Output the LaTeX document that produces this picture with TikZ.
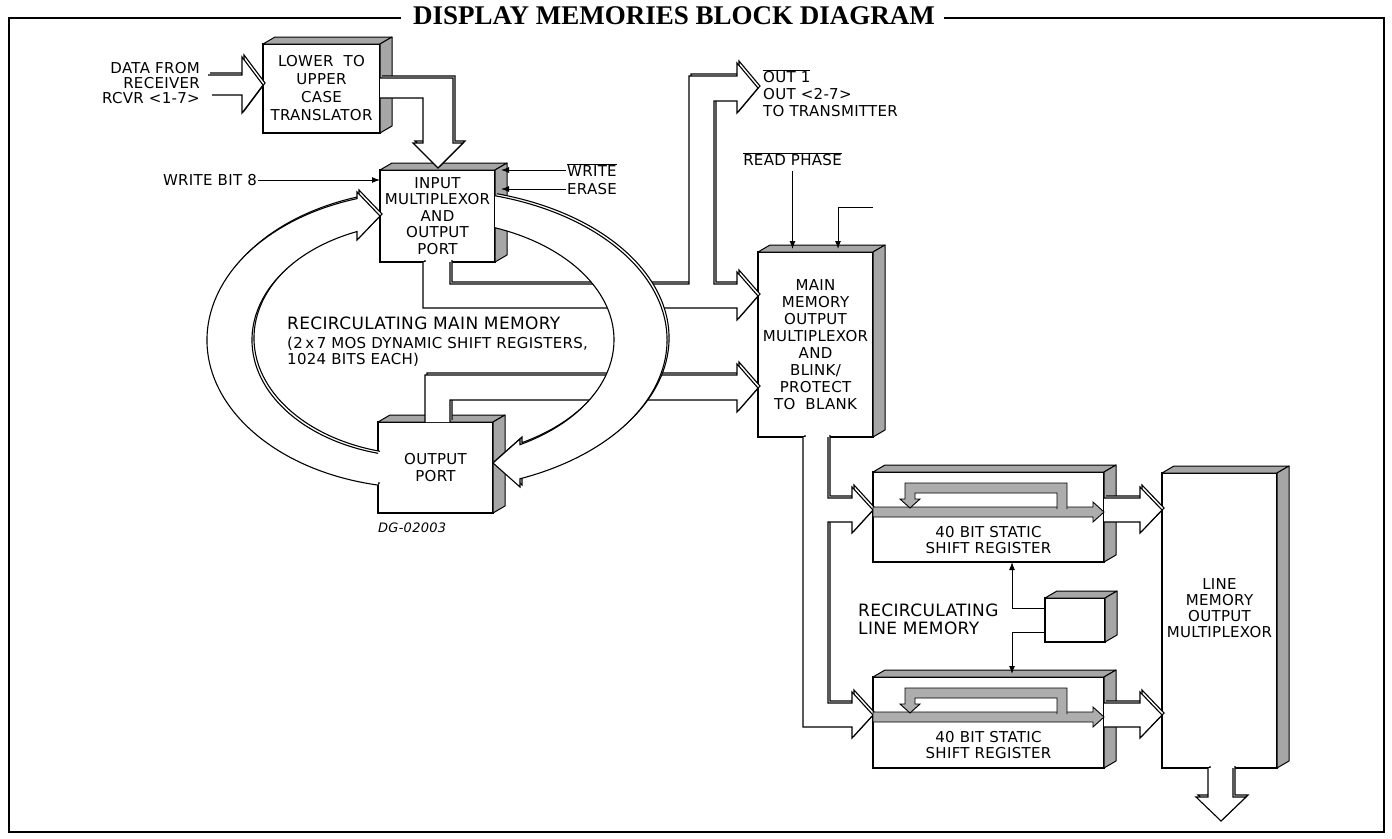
\documentclass[tikz,border=0pt]{standalone}
\usepackage{fontspec}
\setmainfont{DejaVu Sans}[LetterSpace=2.0]
\newfontfamily\titlefont{Liberation Serif}
\usetikzlibrary{arrows.meta,calc,positioning}

\newcommand{\lbl}{\fontsize{15}{16.5}\selectfont}
\newcommand{\headfont}{\fontsize{17}{18}\selectfont}
\newcommand{\ovl}[1]{$\overline{\mbox{#1}}$}

% shaded top and side faces of a block
\newcommand{\boxfaces}[1]{%
  \filldraw[face] (#1.north west) -- ++(12,-7) -- ([shift={(12,-7)}]#1.north east) -- (#1.north east) -- cycle;
  \filldraw[face] (#1.north east) -- ([shift={(12,-7)}]#1.north east) -- ([shift={(12,-7)}]#1.south east) -- (#1.south east) -- cycle;}

% hollow bus arrow with a thin rim
\newcommand{\fatpipe}[1]{%
  \filldraw[pipe, shift={(2,-2)}] #1;
  \filldraw[pipe] #1;}

\tikzset{
  front/.style={draw, fill=white, line width=1.2pt, inner sep=0pt, outer sep=0pt, align=center, font=\lbl},
  face/.style={draw, fill=black!35, line width=1pt, line join=round},
  pipe/.style={draw, fill=white, line width=1.1pt, line join=miter},
  shade/.style={draw, fill=black!32, line width=0.9pt, line join=miter},
  ctl/.style={line width=1pt, -{Latex[length=8pt,width=6pt]}},
  frame/.style={line width=2.5pt},
  lbl/.style={font=\lbl, inner sep=1pt},
}

\begin{document}
\begin{tikzpicture}[x=1pt,y=-1pt]
  \useasboundingbox (0,0) rectangle (1392,838);

  % Title and frame
  \node[font=\titlefont\bfseries\fontsize{27}{29}\selectfont, inner sep=0pt] (title) at (674,16) {DISPLAY MEMORIES BLOCK DIAGRAM};
  \draw[frame] ($(title.west)+(-12,2)$) -| (9,832) -| (1384,18) -- ($(title.east)+(9,2)$);

  % Blocks
  \node[front, minimum width=117pt, minimum height=89pt, font=\fontsize{15}{18}\selectfont] (trans) at (321.5,88.5) {LOWER\ \ TO\\UPPER\\CASE\\TRANSLATOR};
  \boxfaces{trans}
  \node[front, minimum width=115pt, minimum height=92pt] (imux) at (437.5,216) {INPUT\\MULTIPLEXOR\\AND\\OUTPUT\\PORT};
  \boxfaces{imux}
  \node[front, minimum width=115pt, minimum height=91pt] (oport) at (435.5,467.5) {OUTPUT\\PORT};
  \boxfaces{oport}
  \node[front, minimum width=115pt, minimum height=185pt, font=\fontsize{15}{17}\selectfont] (mmux) at (815.5,344.5) {MAIN\\MEMORY\\OUTPUT\\MULTIPLEXOR\\AND\\BLINK/\\PROTECT\\TO\ \ BLANK};
  \boxfaces{mmux}
  \node[front, minimum width=231pt, minimum height=90pt] (sr1) at (988.5,517) {};
  \boxfaces{sr1}
  \node[front, minimum width=231pt, minimum height=91pt] (sr2) at (988.5,722.5) {};
  \boxfaces{sr2}
  \node[front, minimum width=60pt, minimum height=44pt] (ctrl) at (1075,620) {};
  \boxfaces{ctrl}
  \node[front, minimum width=115pt, minimum height=295pt, font=\fontsize{15}{16}\selectfont] (lmux) at (1219.5,620.5) {LINE\\MEMORY\\OUTPUT\\MULTIPLEXOR\\[8pt]};
  \boxfaces{lmux}

  % Buses
  \fatpipe{(208,75) -- (242,75) -- (242,57) -- (263,85) -- (242,113) -- (242,95) -- (212,95)}
  \fatpipe{(380,78) -- (453,78) -- (453,143) -- (463,143) -- (438,168) -- (413,143) -- (423,143) -- (423,98) -- (380,98)}
  \fatpipe{(423,262) -- (423,308) -- (737,308) -- (737,320) -- (758,296) -- (737,272) -- (737,284) -- (714,284) -- (714,101) -- (737,101) -- (737,113) -- (758,88) -- (737,63) -- (737,76) -- (689,76) -- (689,284) -- (450,284) -- (450,262)}
  \fatpipe{(425,422) -- (425,375) -- (737,375) -- (737,364) -- (758,388) -- (737,412) -- (737,400) -- (450,400) -- (450,422)}
  \fatpipe{(803,437) -- (803,727) -- (852,727) -- (852,738) -- (873,715) -- (852,692) -- (852,703) -- (828,703) -- (828,522) -- (852,522) -- (852,533) -- (873,510) -- (852,487) -- (852,498) -- (828,498) -- (828,437)}
  \fatpipe{(1104,498) -- (1140,498) -- (1140,487) -- (1162,510) -- (1140,533) -- (1140,522) -- (1104,522)}
  \fatpipe{(1104,703) -- (1140,703) -- (1140,692) -- (1162,715) -- (1140,738) -- (1140,727) -- (1104,727)}
  \fatpipe{(1208,768) -- (1208,797) -- (1196,797) -- (1221,821) -- (1246,797) -- (1233,797) -- (1233,768)}

  % Recirculating loops of the main memory
  \fatpipe{(420,340) ++(101.37:213 and 148) arc[start angle=101.37, end angle=252.8, x radius=213, y radius=148] -- (357,192) -- (380,216) -- (357,240) -- ($(420,340)+(247.98:168 and 117)$) arc[start angle=247.98, end angle=104.48, x radius=168, y radius=117]}
  \fatpipe{(430,340) ++(-74.08:237 and 150) arc[start angle=-74.08, end angle=67.68, x radius=237, y radius=150] -- (520,487) -- (493,463) -- (520,439) -- ($(430,340)+(60.72:184 and 120)$) arc[start angle=60.72, end angle=-69.31, x radius=184, y radius=120]}

  % Recirculation inside the shift registers
  \foreach \dy in {0,205} {
    \begin{scope}[shift={(0,\dy)}]
      \filldraw[shade] (873,507) -- (1093,507) -- (1093,502) -- (1104,512) -- (1093,522) -- (1093,517) -- (873,517) -- cycle;
      \filldraw[shade] (1057,509) -- (1057,493) -- (915,493) -- (915,499) -- (920,499) -- (910,508) -- (900,499) -- (905,499) -- (905,483) -- (1067,483) -- (1067,509);
    \end{scope}
  }

  % Labels
  \node[lbl, anchor=east, align=right, font=\fontsize{15}{15}\selectfont] (rcvr) at (201,83) {DATA FROM\\RECEIVER\\RCVR <1-7>};
  \node[lbl, anchor=west, align=left, font=\fontsize{15}{17}\selectfont] (xmit) at (762,93) {\ovl{OUT 1}\\OUT <2-7>\\TO TRANSMITTER};
  \node[lbl, anchor=east] (wb8) at (258,180) {WRITE BIT 8};
  \node[lbl, anchor=west] (wr) at (566,170) {\ovl{WRITE}};
  \node[lbl, anchor=west] (er) at (566,189) {ERASE};
  \node[lbl] (rp) at (792.5,159) {\ovl{READ PHASE}};
  \node[anchor=west, inner sep=0pt, font=\headfont] (mmt) at (287,323) {RECIRCULATING MAIN MEMORY};
  \node[anchor=west, inner sep=0pt, align=left, font=\lbl] (mms) at (287,352) {(2\,x\,7 MOS DYNAMIC SHIFT REGISTERS,\\1024 BITS EACH)};
  \node[anchor=west, inner sep=0pt, font=\fontsize{13}{15}\selectfont\itshape] (dg) at (378,528) {DG-02003};
  \node[lbl, align=center, font=\fontsize{15}{16}\selectfont] (sr1t) at (988.5,540) {40 BIT STATIC\\SHIFT REGISTER};
  \node[lbl, align=center, font=\fontsize{15}{16}\selectfont] (sr2t) at (988.5,745) {40 BIT STATIC\\SHIFT REGISTER};
  \node[anchor=west, inner sep=0pt, align=left, font=\headfont] (lmt) at (858,619) {RECIRCULATING\\LINE MEMORY};

  % Control lines
  \draw[ctl] (wb8.east) -- (wb8.east -| imux.west);
  \draw[ctl] (wr.west) -- ($(wr.west -| imux.east)+(6,0)$);
  \draw[ctl] (er.west) -- ($(er.west -| imux.east)+(6,0)$);
  \draw[ctl] ([yshift=-4pt]rp.south) -- ($(rp.south |- mmux.north)+(0,-3)$);
  \coordinate (rd2) at (873,207);
  \draw[ctl] (rd2) -| ($(mmux.north)+(22.5,-3)$);
  \draw[ctl] ($(ctrl.west)+(0,-12)$) -| ($(sr1.south)+(23.5,0)$);
  \draw[ctl] ($(ctrl.west)+(0,12)$) -| ($(sr2.north)+(23.5,-3)$);
\end{tikzpicture}
\end{document}
